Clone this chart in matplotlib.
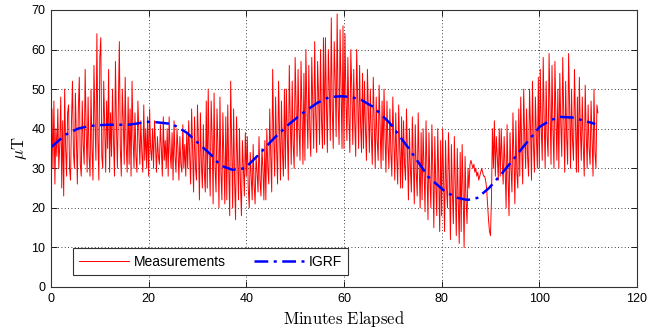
import numpy as np
import matplotlib
matplotlib.use("Agg")
import matplotlib.pyplot as plt

plt.rcParams['mathtext.fontset'] = 'cm'

# Measurement samples every 0.2 minutes from 0 to 112
meas_step = 0.2
meas = [
    38, 45, 30, 47, 26, 40, 33, 45, 30, 36, 48, 25, 42, 23, 50, 35, 28, 44, 46, 30,
    27, 42, 52, 34, 30, 49, 38, 26, 45, 53, 31, 28, 47, 36, 31, 55, 40, 29, 48, 33,
    28, 50, 35, 27, 56, 42, 32, 64, 38, 27, 58, 63, 33, 30, 52, 40, 29, 47, 35, 55,
    29, 44, 33, 50, 37, 28, 57, 41, 30, 46, 62, 35, 28, 50, 42, 31, 53, 36, 29, 48,
    31, 45, 28, 52, 38, 30, 44, 33, 29, 47, 39, 31, 42, 34, 29, 46, 32, 40, 30, 43,
    28, 45, 35, 32, 40, 30, 42, 36, 29, 38, 33, 31, 41, 35, 28, 43, 32, 37, 30, 40,
    28, 43, 34, 30, 39, 27, 42, 33, 29, 40, 35, 27, 38, 31, 29, 41, 30, 36, 28, 39,
    30, 42, 33, 26, 45, 35, 24, 43, 30, 27, 46, 36, 22, 44, 31, 25, 41, 29, 24, 47,
    25, 50, 33, 23, 47, 38, 21, 49, 30, 24, 45, 35, 20, 48, 29, 22, 44, 33, 21, 43,
    22, 46, 30, 18, 52, 36, 20, 45, 27, 17, 43, 33, 22, 40, 26, 18, 37, 30, 23, 39,
    28, 38, 25, 20, 34, 28, 22, 36, 26, 21, 33, 29, 24, 38, 27, 23, 35, 30, 22, 37,
    22, 40, 30, 26, 45, 33, 24, 55, 38, 28, 48, 35, 26, 52, 40, 27, 47, 34, 28, 50,
    30, 50, 38, 27, 56, 42, 31, 52, 36, 30, 58, 45, 33, 55, 40, 32, 57, 44, 31, 54,
    32, 60, 45, 35, 56, 40, 33, 58, 47, 35, 62, 44, 34, 57, 48, 36, 60, 42, 35, 63,
    36, 63, 47, 34, 60, 50, 37, 68, 45, 35, 62, 52, 38, 69, 46, 36, 65, 50, 35, 66,
    35, 64, 48, 37, 58, 43, 34, 60, 50, 36, 55, 42, 33, 60, 47, 35, 56, 41, 34, 54,
    35, 52, 40, 32, 55, 45, 34, 50, 38, 31, 53, 42, 30, 48, 37, 32, 51, 40, 30, 47,
    32, 50, 38, 29, 47, 36, 30, 45, 34, 28, 48, 37, 27, 44, 33, 26, 46, 35, 25, 43,
    25, 42, 31, 27, 45, 34, 22, 40, 30, 24, 43, 32, 21, 41, 29, 23, 44, 31, 20, 39,
    22, 40, 29, 19, 42, 30, 17, 39, 27, 20, 41, 29, 15, 38, 26, 18, 40, 28, 14, 37,
    18, 40, 27, 14, 37, 25, 20, 39, 28, 12, 36, 24, 16, 38, 26, 13, 35, 22, 11, 34,
    14, 36, 24, 10, 33, 22, 16, 30, 25, 31, 32, 31, 30, 31, 29, 30, 28, 29, 27, 28,
    29, 30, 29, 28, 28, 27, 25, 21, 17, 14, 13, 22, 40, 30, 42, 28, 38, 33, 27, 40,
    28, 40, 32, 26, 38, 30, 20, 41, 28, 18, 39, 30, 24, 44, 33, 21, 42, 29, 25, 45,
    28, 48, 35, 26, 50, 38, 30, 45, 33, 28, 50, 40, 27, 52, 36, 29, 48, 38, 30, 53,
    30, 55, 40, 32, 58, 42, 30, 52, 38, 33, 59, 45, 31, 56, 40, 30, 57, 43, 32, 50,
    30, 54, 41, 33, 58, 44, 29, 52, 38, 31, 59, 46, 30, 50, 37, 32, 55, 42, 29, 48,
    29, 53, 40, 32, 48, 36, 28, 51, 39, 30, 46, 35, 31, 47, 38, 28, 50, 34, 30, 46,
    44,
]

igrf_x = [0, 3, 5.5, 7.9, 11.4, 15.9, 20.3, 24.8, 27.8, 30.2, 32.7, 34.7, 37.2,
          39.7, 42.6, 45.6, 48.6, 51.6, 54.5, 57, 59.5, 61.5, 63.5, 66, 69.4,
          73.4, 77.3, 80.8, 83.3, 85.3, 87.3, 89.7, 92.2, 94.2, 96.7, 100.1,
          102.1, 104.1, 107.1, 109.1, 111.5]
igrf_y = [35.3, 38.5, 40, 40.7, 41, 41, 41.8, 41.2, 39, 36.3, 33.5, 30.7, 29.6,
          30, 33.5, 37.5, 41, 44, 46.5, 48, 48.2, 48, 47.3, 45.5, 41.4, 34.8,
          27.8, 24, 22.5, 22, 22.5, 25, 28.5, 31.5, 35.4, 40.5, 42, 43, 42.8,
          42, 41.2]

xticks = [0, 20, 40, 60, 80, 100, 120]
yticks = [0, 10, 20, 30, 40, 50, 60, 70]

meas_x = np.arange(len(meas)) * meas_step

fig = plt.figure(figsize=(6.47, 3.35), dpi=100)
ax = fig.add_axes([0.0788, 0.1433, 0.9057, 0.8269])

ax.plot(meas_x, meas, color='red', lw=0.7, label='Measurements')
ax.plot(igrf_x, igrf_y, color='blue', lw=1.8, linestyle=(0, (5.5, 2.2, 1.2, 2.2)), label='IGRF')

ax.set_xlim(0, 120)
ax.set_ylim(0, 70)
ax.set_xticks(xticks)
ax.set_yticks(yticks)
ax.grid(True, color='black', linestyle=(0, (1, 3)), linewidth=0.6)
ax.tick_params(direction='in', top=True, right=True, labelsize=9, length=4,
               width=0.6, pad=4)
for lab in ax.get_xticklabels() + ax.get_yticklabels():
    lab.set_family('Liberation Sans')
for s in ax.spines.values():
    s.set_linewidth(0.8)
    s.set_color('#333333')

ax.set_xlabel(r'$\mathrm{Minutes\ Elapsed}$', fontsize=12, labelpad=3)
ax.set_ylabel(r'$\mu\mathrm{T}$', fontsize=12, labelpad=2)

leg = ax.legend(loc='lower left', ncol=2, bbox_to_anchor=(0.0375, 0.0433),
                borderaxespad=0,
                fancybox=False, edgecolor='#333333', framealpha=1,
                prop={'family': 'Liberation Sans', 'size': 10},
                handlelength=3.6, handletextpad=0.35, columnspacing=2.0,
                borderpad=0.45)
leg.get_frame().set_linewidth(0.8)

fig.savefig('out.png', dpi=100)
